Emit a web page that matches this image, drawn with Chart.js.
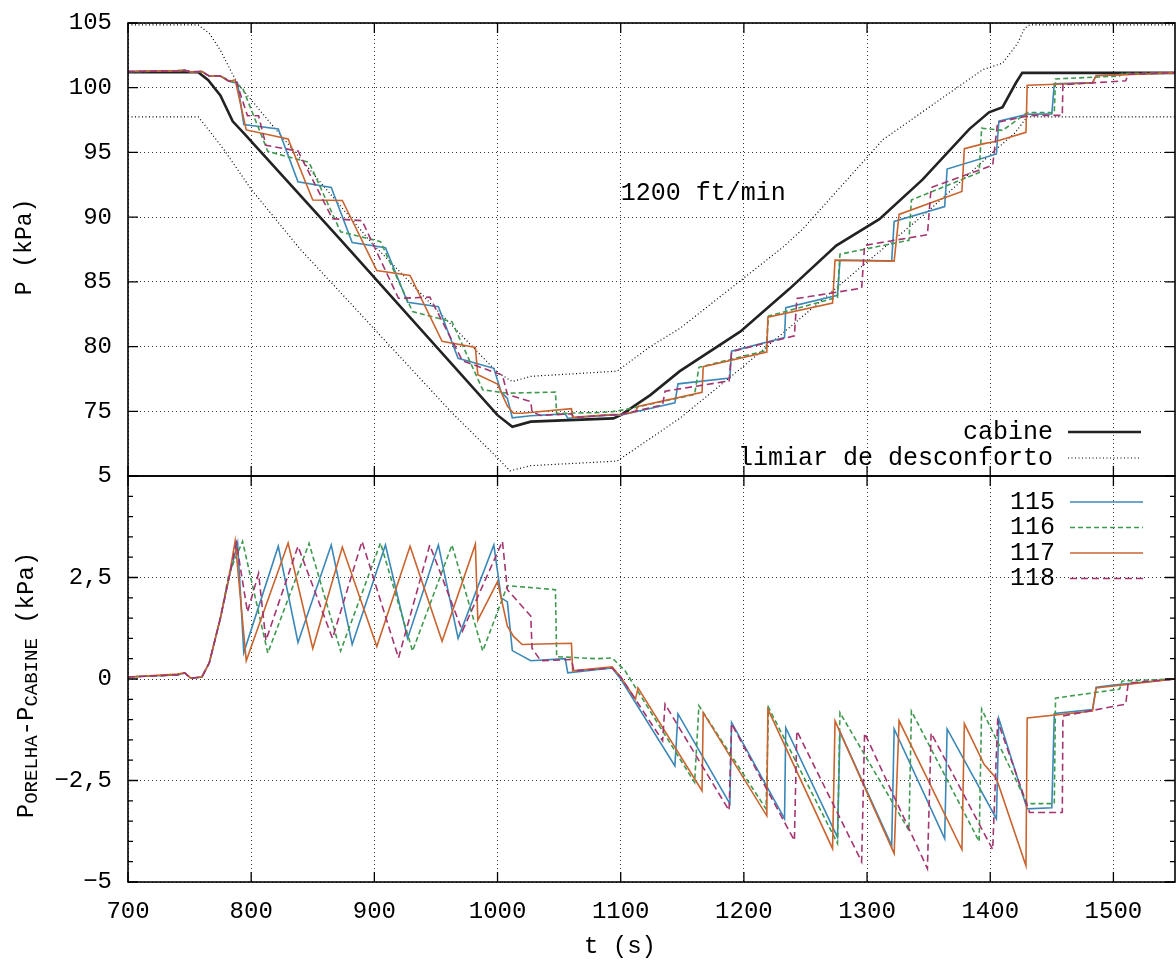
<!DOCTYPE html>
<html>
<head>
<meta charset="utf-8">
<script src="https://cdn.jsdelivr.net/npm/chart.js@4.4.0/dist/chart.umd.min.js"></script>
<style>
  html, body { margin: 0; padding: 0; background: #fff; }
  #wrap { position: relative; width: 1176px; height: 961px; overflow: hidden; }
  #top { position: absolute; left: 0; top: -10px; }
  #bot { position: absolute; left: 0; top: 440px; }
</style>
</head>
<body>
<div id="wrap">
  <canvas id="top" width="1176" height="517"></canvas>
  <canvas id="bot" width="1176" height="521"></canvas>
</div>
<script>
const FONT = "'Liberation Mono', 'DejaVu Sans Mono', monospace";

// axes
const xTicks = [700, 800, 900, 1000, 1100, 1200, 1300, 1400, 1500];
const pTicks = [70, 75, 80, 85, 90, 95, 100, 105];
const dTicks = [-5, -2.5, 0, 2.5, 5];
const dMinor = [-4.5, -4, -3.5, -3, -2, -1.5, -1, -0.5, 0.5, 1, 1.5, 2, 3, 3.5, 4, 4.5];

// cabin pressure (kPa)
const tCab = [700, 757, 765, 775, 785, 794, 873, 1000, 1012, 1027, 1094, 1100, 1124, 1148, 1197, 1237, 1275, 1310, 1345, 1383, 1399, 1410, 1421, 1426, 1550];
const pCab = [101.2, 101.2, 100.6, 99.4, 97.4, 96.5, 88.2, 74.7, 73.8, 74.2, 74.45, 74.7, 76.25, 78.1, 81.15, 84.46, 87.8, 89.85, 92.9, 96.8, 98.1, 98.5, 100.4, 101.15, 101.15];

// discomfort threshold, upper and lower
const tLimSup = [700, 757, 766, 775, 784, 790, 818, 897, 1000, 1012, 1027, 1097, 1124, 1148, 1232, 1248, 1313, 1394, 1410, 1422, 1428, 1432, 1550];
const pLimSup = [104.85, 104.85, 104.2, 102.9, 101.2, 100.2, 97.0, 88.1, 78.0, 77.3, 77.7, 78.1, 80.0, 81.4, 87.7, 89.1, 96.0, 101.4, 101.9, 103.4, 104.6, 104.85, 104.85];
const tLimInf = [700, 757, 765, 778, 800, 840, 864.5, 961.8, 1000, 1010, 1027, 1097, 1124, 1148, 1200, 1297, 1350, 1402, 1420, 1430, 1550];
const pLimInf = [97.75, 97.75, 96.8, 95.2, 92.15, 87.5, 85.0, 75.0, 71.4, 70.4, 70.8, 71.15, 72.9, 74.46, 78.5, 86.3, 90.5, 95.0, 96.5, 97.75, 97.75];

// 115
const t115 = [700, 740, 746, 751, 760, 766, 775, 782, 789, 794, 822, 838, 865, 882, 909, 927, 952, 968, 997, 1003, 1008, 1012, 1027, 1055, 1057, 1093, 1100, 1144, 1146.5, 1188.6, 1190, 1233, 1234, 1276, 1278, 1320, 1322, 1363, 1365, 1405, 1407, 1430, 1450, 1452, 1483, 1486, 1500, 1550];
const p115 = [101.25, 101.3, 101.35, 101.22, 101.25, 100.9, 100.9, 100.5, 100.35, 97.15, 96.81, 92.74, 92.29, 88.04, 87.63, 83.43, 83.08, 79.09, 78.32, 76.48, 76.0, 74.5, 74.65, 74.8, 74.46, 74.72, 74.7, 75.65, 77.12, 77.56, 79.65, 80.69, 83.01, 83.96, 86.67, 86.62, 89.67, 90.82, 93.72, 94.88, 97.41, 97.95, 97.98, 100.3, 100.4, 100.95, 101.0, 101.15];
const d115 = [0.05, 0.1, 0.15, 0.02, 0.05, 0.4, 1.5, 2.5, 3.35, 0.65, 3.27, 0.9, 3.3, 0.85, 3.3, 1.0, 3.3, 1.0, 3.3, 2.0, 1.9, 0.7, 0.45, 0.5, 0.15, 0.27, 0.0, -2.14, -0.86, -3.07, -1.07, -3.44, -1.2, -3.9, -1.3, -4.1, -1.23, -3.93, -1.23, -3.44, -0.98, -3.2, -3.17, -0.85, -0.75, -0.2, -0.15, 0];

// 116
const t116 = [700, 740, 746, 751, 760, 766, 775, 782, 793, 813.5, 847, 872.6, 905, 931, 963, 988, 1008, 1047, 1048, 1081, 1093, 1103.6, 1160, 1163.5, 1218, 1220, 1276, 1278, 1334, 1336, 1391, 1393, 1410, 1430, 1452, 1453, 1505, 1507, 1550];
const p116 = [101.25, 101.3, 101.35, 101.22, 101.25, 100.9, 100.9, 100.6, 99.99, 95.08, 94.23, 88.87, 88.11, 82.7, 81.92, 76.66, 76.4, 76.48, 74.83, 74.9, 74.97, 75.13, 76.3, 78.4, 79.69, 82.35, 83.81, 87.14, 88.21, 91.33, 93.45, 96.87, 96.7, 98.08, 98.08, 100.68, 100.9, 101.1, 101.15];
const d116 = [0.05, 0.1, 0.15, 0.02, 0.05, 0.4, 1.5, 2.6, 3.39, 0.64, 3.34, 0.69, 3.35, 0.69, 3.3, 0.69, 2.3, 2.2, 0.55, 0.5, 0.52, 0.2, -2.55, -0.66, -3.2, -0.7, -4.05, -0.83, -3.73, -0.79, -4.0, -0.74, -1.8, -3.07, -3.07, -0.47, -0.25, -0.05, 0];

// 117
const t117 = [700, 740, 746, 751, 760, 766, 775, 782, 787, 796, 830, 850, 874, 902, 929, 955, 982, 984, 1000, 1008, 1013, 1020, 1060, 1061, 1093, 1100, 1112, 1114, 1166, 1167, 1218.6, 1219.5, 1272, 1274, 1322, 1326, 1377, 1379, 1395, 1405, 1429, 1430, 1483, 1486, 1550];
const p117 = [101.25, 101.32, 101.35, 101.22, 101.25, 100.9, 100.9, 100.5, 100.6, 96.74, 96.04, 91.33, 91.29, 85.87, 85.49, 80.4, 79.93, 77.83, 77.1, 75.4, 74.85, 74.85, 75.2, 74.53, 74.75, 74.75, 74.98, 75.38, 76.47, 78.45, 79.57, 82.27, 83.36, 86.68, 86.6, 90.21, 91.98, 95.29, 95.68, 95.87, 96.55, 100.19, 100.36, 100.93, 101.15];
const d117 = [0.05, 0.12, 0.15, 0.02, 0.05, 0.4, 1.5, 2.5, 3.4, 0.45, 3.35, 0.75, 3.25, 0.8, 3.27, 0.93, 3.32, 1.45, 2.4, 1.3, 1.05, 0.85, 0.88, 0.2, 0.3, 0.05, -0.5, -0.22, -2.75, -0.83, -3.37, -0.74, -4.18, -1.03, -4.3, -1.03, -4.2, -1.1, -2.1, -2.45, -4.6, -0.96, -0.79, -0.22, 0];

// 118
const t118 = [700, 740, 746, 751, 760, 766, 775, 782, 788, 797, 806, 812, 838, 866, 890, 919.6, 945, 971.5, 1004, 1008, 1027, 1028, 1035, 1060, 1062, 1093, 1100, 1134, 1136, 1188, 1190, 1241, 1243, 1295.6, 1298, 1349, 1352, 1402, 1406, 1432, 1458.5, 1459, 1510, 1512, 1550];
const p118 = [101.25, 101.3, 101.35, 101.22, 101.25, 100.9, 100.9, 100.5, 100.45, 97.83, 97.83, 95.55, 95.11, 89.88, 89.73, 83.73, 83.82, 78.9, 77.79, 76.3, 75.75, 74.96, 74.68, 74.8, 74.53, 74.72, 74.75, 75.5, 76.55, 77.35, 79.61, 80.83, 83.71, 84.51, 87.82, 88.64, 92.29, 94.01, 97.33, 97.86, 97.86, 100.24, 100.53, 101.05, 101.15];
const d118 = [0.05, 0.1, 0.15, 0.02, 0.05, 0.4, 1.5, 2.5, 3.35, 1.65, 2.6, 0.95, 3.27, 1.0, 3.39, 0.52, 3.3, 1.18, 3.39, 2.2, 1.55, 0.76, 0.45, 0.48, 0.2, 0.27, 0.05, -1.52, -0.62, -3.24, -1.1, -3.98, -1.28, -4.5, -1.33, -4.67, -1.33, -4.2, -1.03, -3.29, -3.29, -0.91, -0.62, -0.1, 0];

const names = ['115', '116', '117', '118'];
const colors = ['#3b88b8', '#3f9a4f', '#c9642f', '#a3356f'];
const dashes = [[], [5, 3], [], [7, 4]];

const pts = (t, v) => t.map((x, i) => ({ x, y: v[i] }));

function earSet(i, t, v) {
  return {
    label: names[i], data: pts(t, v), borderColor: colors[i], borderWidth: 1.6,
    borderDash: dashes[i], pointRadius: 0, tension: 0, fill: false
  };
}

function xScale(showTicks) {
  return {
    type: 'linear', min: 700, max: 1550,
    ticks: {
      display: showTicks, stepSize: 100, includeBounds: false, padding: 15,
      color: '#000', font: { family: FONT, size: 24 }, callback: v => String(v)
    },
    grid: { color: '#333', lineWidth: 1, drawTicks: false },
    border: { display: false, dash: [1, 3] },
    afterFit: s => { s.height = showTicks ? 79 : 0; }
  };
}

function yScale(min, max, step, fmt) {
  return {
    type: 'linear', min, max,
    ticks: {
      stepSize: step, padding: 16, color: '#000',
      font: { family: FONT, size: 24 }, callback: fmt
    },
    grid: { color: '#333', lineWidth: 1, drawTicks: false },
    border: { display: false, dash: [1, 3] },
    afterFit: s => { s.width = 128; }
  };
}

// frame with inward ticks, gnuplot-style
function frame(yMajor, yMinor, extra) {
  return {
    id: 'frame',
    afterDatasetsDraw(chart) {
      const { ctx, chartArea: a, scales: { x, y } } = chart;
      ctx.save();
      ctx.strokeStyle = '#000';
      ctx.lineWidth = 1.6;
      ctx.strokeRect(a.left, a.top, a.right - a.left, a.bottom - a.top);
      ctx.lineWidth = 1.3;
      ctx.beginPath();
      xTicks.forEach(v => {
        const px = x.getPixelForValue(v);
        ctx.moveTo(px, a.top); ctx.lineTo(px, a.top + 10);
        ctx.moveTo(px, a.bottom); ctx.lineTo(px, a.bottom - 10);
      });
      yMajor.forEach(v => {
        const py = y.getPixelForValue(v);
        ctx.moveTo(a.left, py); ctx.lineTo(a.left + 10, py);
        ctx.moveTo(a.right, py); ctx.lineTo(a.right - 10, py);
      });
      yMinor.forEach(v => {
        const py = y.getPixelForValue(v);
        ctx.moveTo(a.left, py); ctx.lineTo(a.left + 5, py);
        ctx.moveTo(a.right, py); ctx.lineTo(a.right - 5, py);
      });
      ctx.stroke();
      ctx.restore();
      extra(chart);
    }
  };
}

function legendRow(ctx, textRight, y, label, color, width, dash) {
  ctx.fillStyle = '#000';
  ctx.font = `25px ${FONT}`;
  ctx.textAlign = 'right';
  ctx.textBaseline = 'middle';
  ctx.fillText(label, textRight, y);
  ctx.strokeStyle = color;
  ctx.lineWidth = width;
  ctx.setLineDash(dash);
  ctx.beginPath();
  ctx.moveTo(textRight + 15, y);
  ctx.lineTo(textRight + 88, y);
  ctx.stroke();
  ctx.setLineDash([]);
}

new Chart(document.getElementById('top'), {
  type: 'line',
  data: {
    datasets: [
      earSet(3, t118, p118),
      earSet(2, t117, p117),
      earSet(1, t116, p116),
      earSet(0, t115, p115),
      { label: 'cabine', data: pts(tCab, pCab), borderColor: '#222', borderWidth: 2.6, pointRadius: 0, tension: 0 },
      { label: 'limiar de desconforto', data: pts(tLimSup, pLimSup), borderColor: '#000', borderWidth: 1.2, borderDash: [1, 2.5], pointRadius: 0, tension: 0 },
      { label: 'limiar inf', data: pts(tLimInf, pLimInf), borderColor: '#000', borderWidth: 1.2, borderDash: [1, 2.5], pointRadius: 0, tension: 0 }
    ]
  },
  options: {
    responsive: false, animation: false,
    layout: { padding: { top: 33, right: 1, bottom: 31, left: 0 } },
    plugins: { legend: { display: false }, tooltip: { enabled: false } },
    scales: {
      x: xScale(false),
      y: yScale(70, 105, 5, v => (v === 70 ? '' : String(v)))
    }
  },
  plugins: [frame(pTicks, [], chart => {
    const { ctx, chartArea: a, scales: { x, y } } = chart;
    ctx.save();
    ctx.fillStyle = '#000';
    ctx.font = `25px ${FONT}`;
    ctx.textAlign = 'center';
    ctx.textBaseline = 'middle';
    ctx.fillText('1200 ft/min', x.getPixelForValue(1167), y.getPixelForValue(91.8));
    legendRow(ctx, a.right - 122, a.bottom - 44, 'cabine', '#222', 2.6, []);
    legendRow(ctx, a.right - 122, a.bottom - 18, 'limiar de desconforto', '#000', 1.2, [1, 2.5]);
    ctx.translate(25, a.top + 224);
    ctx.rotate(-Math.PI / 2);
    ctx.font = `23px ${FONT}`;
    ctx.textAlign = 'center';
    ctx.fillText('P (kPa)', 0, 0);
    ctx.restore();
  })]
});

new Chart(document.getElementById('bot'), {
  type: 'line',
  data: {
    datasets: [
      earSet(3, t118, d118),
      earSet(2, t117, d117),
      earSet(1, t116, d116),
      earSet(0, t115, d115)
    ]
  },
  options: {
    responsive: false, animation: false,
    layout: { padding: { top: 36, right: 1, bottom: 0, left: 0 } },
    plugins: { legend: { display: false }, tooltip: { enabled: false } },
    scales: {
      x: xScale(true),
      y: yScale(-5, 5, 2.5, v => String(v).replace('.', ',').replace('-', '\u2212'))
    }
  },
  plugins: [frame(dTicks, dMinor, chart => {
    const { ctx, chartArea: a } = chart;
    ctx.save();
    names.forEach((n, i) => {
      legendRow(ctx, a.right - 120, a.top + 26 + i * 25.5, n, colors[i], 1.6, dashes[i]);
    });
    // x title
    ctx.fillStyle = '#000';
    ctx.font = `24px ${FONT}`;
    ctx.textAlign = 'center';
    ctx.textBaseline = 'middle';
    ctx.fillText('t (s)', 620, 507);
    // y title with subscripts
    const parts = [['P', 24, 0], ['ORELHA', 19, 4], ['-', 24, 0], ['P', 24, 0], ['CABINE', 19, 4], [' (kPa)', 24, 0]];
    let total = 0;
    parts.forEach(p => { ctx.font = `${p[1]}px ${FONT}`; total += ctx.measureText(p[0]).width; });
    ctx.translate(25, 245);
    ctx.rotate(-Math.PI / 2);
    ctx.textAlign = 'left';
    ctx.textBaseline = 'alphabetic';
    let cx = -total / 2;
    parts.forEach(p => {
      ctx.font = `${p[1]}px ${FONT}`;
      ctx.fillText(p[0], cx, 8 + p[2]);
      cx += ctx.measureText(p[0]).width;
    });
    ctx.restore();
  })]
});
</script>
</body>
</html>
